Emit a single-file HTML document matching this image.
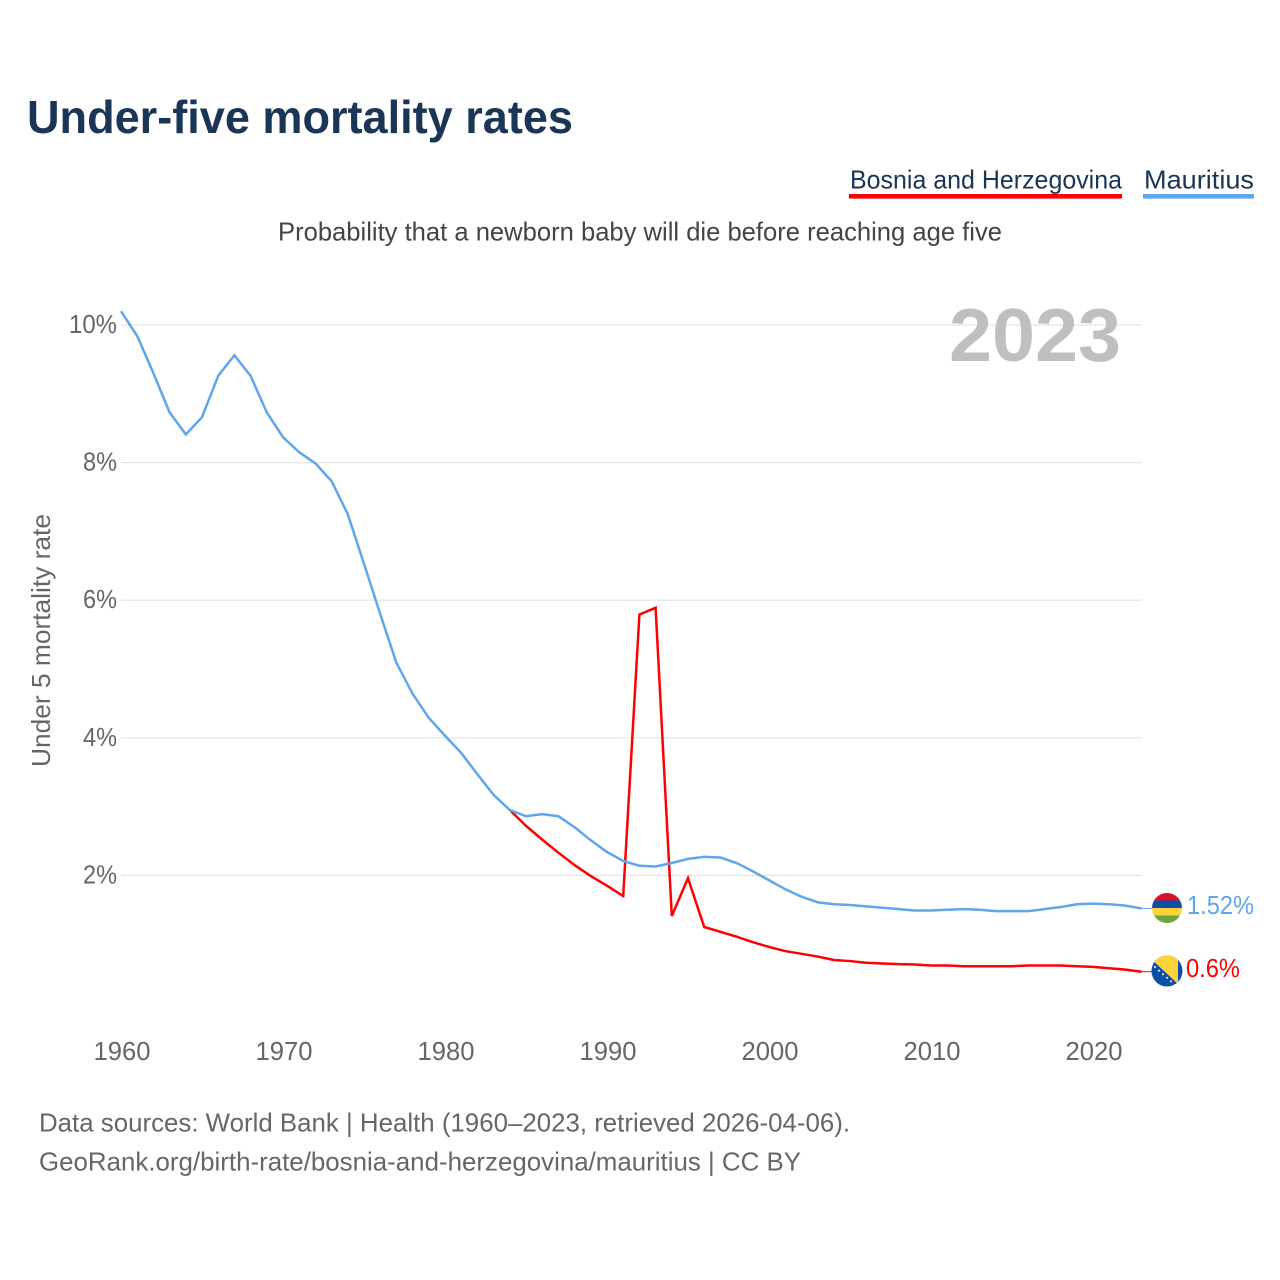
<!DOCTYPE html>
<html lang="en">
<head>
<meta charset="utf-8">
<title>Under-five mortality rates</title>
<style>
html,body{margin:0;padding:0;background:#fff;width:1280px;height:1280px;overflow:hidden}
svg{display:block}
text{font-family:"Liberation Sans",sans-serif}
</style>
</head>
<body>
<svg id="chart" width="1280" height="1280" viewBox="0 0 1280 1280" xmlns="http://www.w3.org/2000/svg">
  <defs>
    <clipPath id="flag-clip-mu"><circle cx="1167" cy="908" r="15"/></clipPath>
    <clipPath id="flag-clip-ba"><circle cx="1167" cy="971" r="15.5"/></clipPath>
  </defs>
  <rect width="1280" height="1280" fill="#fff"/>
  <text x="27" y="133" font-size="46" font-weight="700" fill="#1a3556" textLength="546" lengthAdjust="spacingAndGlyphs">Under-five mortality rates</text>

  <g>
    <g>
      <text x="850" y="188.5" font-size="26" fill="#1a3556" textLength="272" lengthAdjust="spacingAndGlyphs">Bosnia and Herzegovina</text>
      <rect x="849" y="194" width="273" height="4.6" fill="#ff0000"/>
    </g>
    <g>
      <text x="1144" y="188.5" font-size="26" fill="#1a3556" textLength="110" lengthAdjust="spacingAndGlyphs">Mauritius</text>
      <rect x="1143" y="194" width="111" height="4.6" fill="#5fa6ec"/>
    </g>
  </g>

  <text x="278" y="240.5" font-size="26" fill="#444" textLength="724" lengthAdjust="spacingAndGlyphs">Probability that a newborn baby will die before reaching age five</text>

  <g id="grid"></g>
  <g id="y-ticks"></g>
  <g id="x-ticks"></g>
  <text transform="translate(50,640.5) rotate(-90)" text-anchor="middle" font-size="26" fill="#666" textLength="253" lengthAdjust="spacingAndGlyphs">Under 5 mortality rate</text>
  <text x="949" y="361" font-size="75" font-weight="700" fill="#bfbfbf" textLength="172" lengthAdjust="spacingAndGlyphs">2023</text>

  <g id="series"></g>

  <line id="connector-mu" stroke="#5fa6ec" stroke-width="1"/>
  <line id="connector-ba" stroke="#ff0000" stroke-width="1"/>

  <g clip-path="url(#flag-clip-mu)">
    <rect x="1150" y="892" width="34" height="8.5" fill="#d7102b"/>
    <rect x="1150" y="900.5" width="34" height="7.5" fill="#0d4ea6"/>
    <rect x="1150" y="908" width="34" height="7.5" fill="#fed23b"/>
    <rect x="1150" y="915.5" width="34" height="8.5" fill="#6ea544"/>
  </g>

  <g clip-path="url(#flag-clip-ba)">
    <rect x="1150" y="954" width="34" height="34" fill="#0d4ea6"/>
    <polygon points="1150,958 1150,954 1178,954 1178,984" fill="#fed23b"/>
    <g fill="#fff">
      <circle cx="1155" cy="967" r="1"/>
      <circle cx="1159" cy="970.6" r="1"/>
      <circle cx="1163" cy="974.2" r="1"/>
      <circle cx="1167" cy="977.8" r="1"/>
      <circle cx="1171" cy="981.4" r="1"/>
      <circle cx="1175" cy="985" r="1"/>
    </g>
  </g>

  <text id="label-mu" x="1187" y="914" font-size="26" fill="#5fa6ec" textLength="67" lengthAdjust="spacingAndGlyphs">1.52%</text>
  <text id="label-ba" x="1186" y="977" font-size="26" fill="#ff0000" textLength="54" lengthAdjust="spacingAndGlyphs">0.6%</text>

  <text x="39" y="1131.5" font-size="26" fill="#666" textLength="811" lengthAdjust="spacingAndGlyphs">Data sources: World Bank | Health (1960–2023, retrieved 2026-04-06).</text>
  <text x="39" y="1170.5" font-size="26" fill="#666" textLength="762" lengthAdjust="spacingAndGlyphs">GeoRank.org/birth-rate/bosnia-and-herzegovina/mauritius | CC BY</text>
</svg>

<script>
const yTickValues = [2, 4, 6, 8, 10];
const xTickYears = [1960, 1970, 1980, 1990, 2000, 2010, 2020];
const firstYear = 1960;
const lastYear = 2023;
const bosniaStartYear = 1984;
const mauritiusValues = [
  10.2, 9.84, 9.3, 8.73, 8.41, 8.66, 9.26, 9.56, 9.26, 8.73,
  8.37, 8.15, 7.99, 7.73, 7.25, 6.53, 5.8, 5.09, 4.64, 4.29,
  4.03, 3.78, 3.47, 3.17, 2.95, 2.86, 2.89, 2.86, 2.7, 2.51,
  2.34, 2.21, 2.14, 2.13, 2.18, 2.24, 2.27, 2.26, 2.18, 2.06,
  1.93, 1.8, 1.69, 1.61, 1.58, 1.57, 1.55, 1.53, 1.51, 1.49,
  1.49, 1.5, 1.51, 1.5, 1.48, 1.48, 1.48, 1.51, 1.54, 1.58,
  1.59, 1.58, 1.56, 1.52
];
const bosniaValues = [
  2.95, 2.72, 2.52, 2.33, 2.15, 1.99, 1.85, 1.7, 5.79, 5.89,
  1.41, 1.96, 1.25, 1.18, 1.11, 1.03, 0.96, 0.9, 0.86, 0.82,
  0.77, 0.755, 0.73, 0.72, 0.71, 0.705, 0.69, 0.69, 0.68, 0.68,
  0.68, 0.68, 0.69, 0.69, 0.69, 0.68, 0.67, 0.65, 0.63, 0.6
];

const svgNS = 'http://www.w3.org/2000/svg';
function xScale(year) { return 121 + (year - firstYear) * (1141.6 - 121) / (lastYear - firstYear); }
function yScale(value) { return 1013 - value * 68.8; }
function make(tag, parent, attrs) {
  const el = document.createElementNS(svgNS, tag);
  Object.keys(attrs).forEach(function (k) { el.setAttribute(k, attrs[k]); });
  parent.appendChild(el);
  return el;
}

const grid = document.getElementById('grid');
const yTicks = document.getElementById('y-ticks');
yTickValues.forEach(function (v) {
  const line = make('line', grid, { x1: 121, x2: 1141.6, y1: yScale(v), y2: yScale(v), stroke: '#e4e4e4', 'stroke-width': 1.2 });
  
  
  const label = make('text', yTicks, { x: 117, y: yScale(v) + 8, 'text-anchor': 'end', 'font-size': 26, fill: '#666', textLength: String(v).length === 2 ? 48 : 34, lengthAdjust: 'spacingAndGlyphs' });
  label.textContent = v + '%';
  
  
});

const xTicks = document.getElementById('x-ticks');
xTickYears.forEach(function (yr) {
  const label = make('text', xTicks, { x: xScale(yr) + 1, y: 1060, 'text-anchor': 'middle', 'font-size': 26, fill: '#666', textLength: 57, lengthAdjust: 'spacingAndGlyphs' });
  label.textContent = String(yr);
  
  
});

function linePoints(values, startYear) {
  return values.map(function (v, i) { return xScale(startYear + i).toFixed(2) + ',' + yScale(v).toFixed(2); }).join(' ');
}
const seriesGroup = document.getElementById('series');
const bosniaLine = make('polyline', seriesGroup, { points: linePoints(bosniaValues, bosniaStartYear), fill: 'none', stroke: '#ff0000', 'stroke-width': 2.5, 'stroke-linejoin': 'miter' });


const mauritiusLine = make('polyline', seriesGroup, { points: linePoints(mauritiusValues, firstYear), fill: 'none', stroke: '#5fa6ec', 'stroke-width': 2.5, 'stroke-linejoin': 'miter' });



const muEnd = yScale(mauritiusValues[mauritiusValues.length - 1]);
const baEnd = yScale(bosniaValues[bosniaValues.length - 1]);
const connMu = document.getElementById('connector-mu');
connMu.setAttribute('x1', xScale(lastYear));
connMu.setAttribute('x2', 1152);
connMu.setAttribute('y1', muEnd);
connMu.setAttribute('y2', muEnd);
const connBa = document.getElementById('connector-ba');
connBa.setAttribute('x1', xScale(lastYear));
connBa.setAttribute('x2', 1152);
connBa.setAttribute('y1', baEnd);
connBa.setAttribute('y2', baEnd);
</script>
</body>
</html>
